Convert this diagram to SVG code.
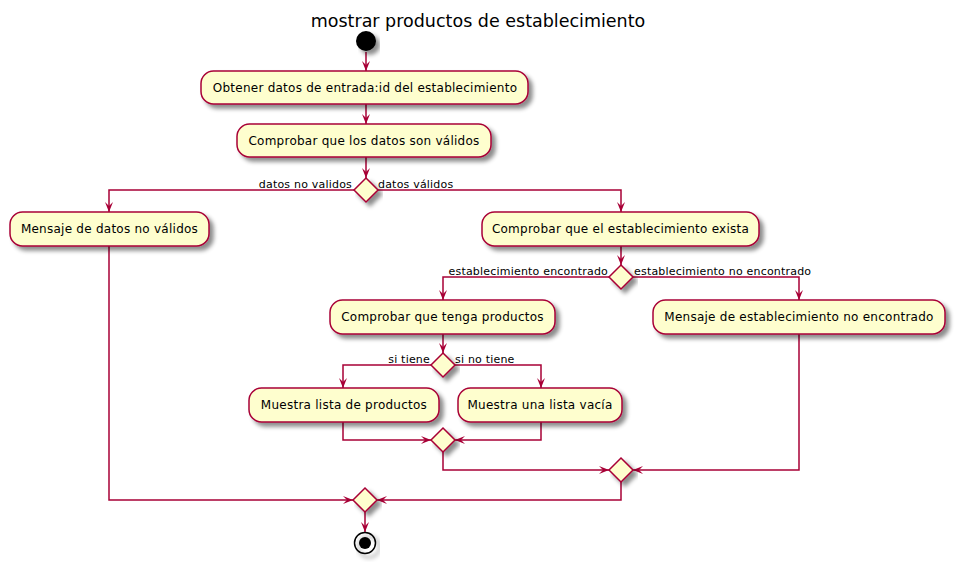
<svg xmlns="http://www.w3.org/2000/svg" width="956" height="562" viewBox="0 0 956 562">
<defs>
<filter id="sh" x="-10%" y="-20%" width="130%" height="160%">
<feGaussianBlur in="SourceAlpha" stdDeviation="2" result="b"/>
<feColorMatrix in="b" type="matrix" values="0 0 0 0 0  0 0 0 0 0  0 0 0 0 0  0 0 0 0.45 0" result="c"/>
<feOffset in="c" dx="4" dy="4" result="o"/>
<feMerge><feMergeNode in="o"/><feMergeNode in="SourceGraphic"/></feMerge>
</filter>
<marker id="ar" viewBox="0 0 10 8" refX="10" refY="4" markerWidth="10" markerHeight="8" markerUnits="userSpaceOnUse" orient="auto">
<path d="M0,0 L10,4 L0,8 L4,4 Z" fill="#A80036"/>
</marker>
</defs>
<style>
.act{fill:#FEFECE;stroke:#A80036;stroke-width:1.5;filter:url(#sh)}
.t{font-family:"DejaVu Sans",sans-serif;font-size:12px;letter-spacing:0.25px;fill:#000;text-anchor:middle}
.l{font-family:"DejaVu Sans",sans-serif;font-size:11px;letter-spacing:0.2px;fill:#000}
.c{fill:none;stroke:#A80036;stroke-width:1.5}
.ca{fill:none;stroke:#A80036;stroke-width:1.5;marker-end:url(#ar)}
</style>
<rect width="956" height="562" fill="#FFFFFF"/>
<text x="478" y="27" font-family="DejaVu Sans, sans-serif" font-size="17.5" text-anchor="middle">mostrar productos de establecimiento</text>

<g id="connectors">
<path class="ca" d="M366,52 V71"/>
<path class="ca" d="M366,104 V124"/>
<path class="ca" d="M366,157 V178"/>
<path class="ca" d="M354,190 H109 V212"/>
<path class="ca" d="M378,190 H621 V212"/>
<path class="ca" d="M621,246 V265"/>
<path class="ca" d="M609,277 H443 V300"/>
<path class="ca" d="M633,277 H799 V300"/>
<path class="ca" d="M443,334 V353"/>
<path class="ca" d="M431,365 H343 V388"/>
<path class="ca" d="M455,365 H541 V388"/>
<path class="ca" d="M343,422 V440 H431"/>
<path class="ca" d="M541,422 V440 H455"/>
<path class="ca" d="M443,452 V470 H609"/>
<path class="ca" d="M799,334 V470 H633"/>
<path class="ca" d="M109,246 V500 H353"/>
<path class="ca" d="M621,482 V500 H377"/>
<path class="ca" d="M365,512 V532"/>
<text class="l" x="352" y="188" text-anchor="end">datos no validos</text>
<text class="l" x="378" y="188">datos válidos</text>
<text class="l" x="608" y="275" text-anchor="end">establecimiento encontrado</text>
<text class="l" x="634" y="275">establecimiento no encontrado</text>
<text class="l" x="430" y="363" text-anchor="end">si tiene</text>
<text class="l" x="455" y="363">si no tiene</text>
</g>

<g id="start"><circle cx="366" cy="41" r="10" fill="#000" filter="url(#sh)"/></g>

<g id="n1"><rect class="act" x="201" y="71" width="327" height="33" rx="12.5"/><text class="t" x="365" y="92">Obtener datos de entrada:id del establecimiento</text></g>
<g id="n2"><rect class="act" x="237" y="124" width="254" height="33" rx="12.5"/><text class="t" x="364" y="145">Comprobar que los datos son válidos</text></g>
<g id="d1"><polygon class="act" points="366,178 378,190 366,202 354,190"/></g>
<g id="n3"><rect class="act" x="10" y="212" width="199" height="34" rx="12.5"/><text class="t" x="109.5" y="233">Mensaje de datos no válidos</text></g>
<g id="n4"><rect class="act" x="482" y="212" width="277" height="34" rx="12.5"/><text class="t" x="620.5" y="233">Comprobar que el establecimiento exista</text></g>
<g id="d2"><polygon class="act" points="621,265 633,277 621,289 609,277"/></g>
<g id="n5"><rect class="act" x="330" y="300" width="225" height="34" rx="12.5"/><text class="t" x="442.5" y="321">Comprobar que tenga productos</text></g>
<g id="n6"><rect class="act" x="653" y="300" width="292" height="34" rx="12.5"/><text class="t" x="799" y="321">Mensaje de establecimiento no encontrado</text></g>
<g id="d3"><polygon class="act" points="443,353 455,365 443,377 431,365"/></g>
<g id="n7"><rect class="act" x="249" y="388" width="190" height="34" rx="12.5"/><text class="t" x="344" y="409">Muestra lista de productos</text></g>
<g id="n8"><rect class="act" x="458" y="388" width="164" height="34" rx="12.5"/><text class="t" x="540" y="409">Muestra una lista vacía</text></g>
<g id="d4"><polygon class="act" points="443,428 455,440 443,452 431,440"/></g>
<g id="d5"><polygon class="act" points="621,458 633,470 621,482 609,470"/></g>
<g id="d6"><polygon class="act" points="365,488 377,500 365,512 353,500"/></g>
<g id="end"><circle cx="365" cy="543" r="10.5" fill="none" stroke="#000" stroke-width="1.5" filter="url(#sh)"/><circle cx="365" cy="543" r="6" fill="#000"/></g>
</svg>
